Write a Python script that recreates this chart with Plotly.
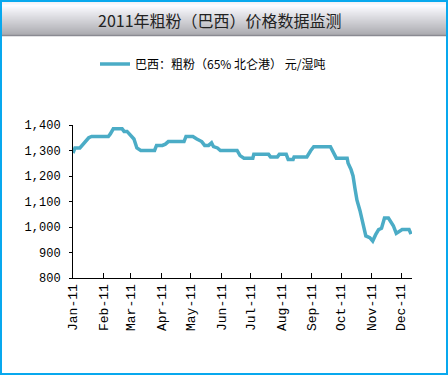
import plotly.graph_objects as go

dates = ["2011-01-01","2011-01-02","2011-01-03","2011-01-08","2011-01-13","2011-01-17","2011-01-20",
         "2011-02-06","2011-02-08","2011-02-11","2011-02-20","2011-02-22","2011-02-25","2011-02-28",
         "2011-03-04","2011-03-07","2011-03-11","2011-03-25","2011-03-27","2011-04-02","2011-04-05",
         "2011-04-08","2011-04-24","2011-04-26","2011-05-03","2011-05-07","2011-05-12","2011-05-15",
         "2011-05-19","2011-05-22","2011-05-24","2011-05-28","2011-05-31","2011-06-17","2011-06-20",
         "2011-06-24","2011-07-03","2011-07-04","2011-07-19","2011-07-21","2011-07-28","2011-07-30",
         "2011-08-06","2011-08-08","2011-08-13","2011-08-14","2011-08-27","2011-08-31","2011-09-03",
         "2011-09-20","2011-09-23","2011-09-26","2011-10-07","2011-10-08","2011-10-11","2011-10-13",
         "2011-10-15","2011-10-17","2011-10-20","2011-10-22","2011-10-24","2011-10-26","2011-10-30",
         "2011-11-02","2011-11-05","2011-11-08","2011-11-11","2011-11-14","2011-11-18","2011-11-23",
         "2011-11-26","2011-12-02","2011-12-09","2011-12-11"]
values = [1290,1305,1310,1310,1335,1350,1355,
          1355,1365,1385,1385,1375,1375,1360,
          1345,1310,1300,1300,1320,1320,1325,
          1335,1335,1355,1355,1345,1335,1320,
          1320,1330,1315,1310,1300,1300,1280,
          1270,1270,1285,1285,1275,1275,1285,
          1285,1265,1265,1275,1275,1300,1315,
          1315,1290,1270,1270,1250,1225,1200,
          1150,1105,1065,1030,985,965,958,
          945,970,990,995,1035,1035,1005,
          975,990,990,972]

title_text = "2011年粗粉（巴西）价格数据监测"
series_name = "巴西：粗粉（65% 北仑港） 元/湿吨"
tick_dates = ["2011-01-01","2011-02-01","2011-03-01","2011-04-01","2011-05-01","2011-06-01",
              "2011-07-01","2011-08-01","2011-09-01","2011-10-01","2011-11-01","2011-12-01"]
tick_labels = ["Jan-11","Feb-11","Mar-11","Apr-11","May-11","Jun-11",
               "Jul-11","Aug-11","Sep-11","Oct-11","Nov-11","Dec-11"]
y_ticks = [800, 900, 1000, 1100, 1200, 1300, 1400]

W, H = 448, 375
L, R, T, B = 73, 36, 125, 97
pw, ph = W - L - R, H - T - B

def px(xp):
    return (xp - L) / pw

def py(yp):
    return (H - B - yp) / ph

mono = "Liberation Mono, DejaVu Sans Mono, monospace"

fig = go.Figure()
fig.add_trace(go.Scatter(x=dates, y=values, mode="lines", name=series_name,
                         line=dict(color="#4BACC6", width=3.5)))

shapes = []
# title band gradient
band_h = 35
for i in range(band_h):
    if i < 5:
        g = int(236 + (252 - 236) * (i / 5))
    else:
        g = int(252 - (252 - 172) * ((i - 5) / (band_h - 6)))
    col = f"rgb({g},{g},{min(255, g + 5)})"
    shapes.append(dict(type="rect", xref="paper", yref="paper",
                       x0=px(0), x1=px(W), y0=py(i + 1), y1=py(i),
                       fillcolor=col, line=dict(width=0), layer="below"))
shapes.append(dict(type="line", xref="paper", yref="paper", x0=px(0), x1=px(W),
                   y0=py(band_h + 0.5), y1=py(band_h + 0.5), line=dict(color="#8a8a92", width=1.5)))
# outer border
shapes.append(dict(type="rect", xref="paper", yref="paper",
                   x0=px(1), x1=px(W - 1), y0=py(H - 1), y1=py(1),
                   line=dict(color="#08A8EE", width=2), fillcolor="rgba(0,0,0,0)"))

fig.update_layout(
    width=W, height=H,
    margin=dict(l=L, r=R, t=T, b=B),
    paper_bgcolor="white", plot_bgcolor="white",
    shapes=shapes,
    showlegend=True,
    legend=dict(orientation="h", x=px(95), xanchor="left", y=py(64), yanchor="middle",
                font=dict(family="Noto Sans CJK SC", size=12, color="black"),
                bgcolor="rgba(0,0,0,0)", itemwidth=30),
    annotations=[dict(text=title_text, xref="paper", yref="paper", x=px(220), y=py(20),
                      xanchor="center", yanchor="middle", showarrow=False,
                      font=dict(family="Noto Sans CJK SC", size=16, color="#222222"))],
    xaxis=dict(type="date", range=["2011-01-01", "2011-12-12"],
               tickvals=tick_dates, ticktext=tick_labels, tickangle=-90,
               ticks="inside", ticklen=5, tickcolor="black",
               showline=True, linecolor="black", linewidth=1,
               showgrid=False, zeroline=False,
               tickfont=dict(family=mono, size=13, color="black")),
    yaxis=dict(range=[800, 1400], tickvals=y_ticks, tickformat=",",
               ticks="outside", ticklen=3, tickcolor="black",
               showline=True, linecolor="black", linewidth=1,
               showgrid=False, zeroline=False, ticklabelstandoff=6,
               tickfont=dict(family=mono, size=12, color="black")),
)

fig.write_html("out.html", config={"displayModeBar": False},
               post_script="document.body.style.margin='0';document.body.style.overflow='hidden';")
